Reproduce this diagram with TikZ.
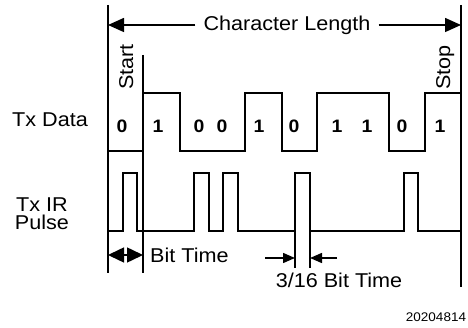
\documentclass[tikz,border=0pt]{standalone}
\usepackage{fontspec}
\setmainfont{Liberation Sans}[FakeStretch=1.08]
\usetikzlibrary{positioning,calc,arrows.meta}

\begin{document}
\begin{tikzpicture}
  [x=1pt,y=-1pt,
   signal/.style={
    line width=1.8pt,
    line join=miter
    },
   marker/.style={
    line width=1.8pt
    },
   sigtitle/.style={
    inner sep=0pt,
    align=center,
    font=\fontsize{20}{18}\selectfont
    },
   bitval/.style={
    inner sep=0pt,
    font=\fontsize{18}{18}\selectfont\bfseries
    },
   measure/.style={
    line width=1.5pt,
    -{Triangle[length=16pt,width=14pt]}
    },
   smallmeasure/.style={
    line width=1.5pt,
    -{Triangle[length=12pt,width=10pt]}
    }
  ]
  \useasboundingbox (0,0) rectangle (468,328);

  % limiti del carattere
  \coordinate (charl) at (108,5);
  \coordinate (charr) at (461,5);
  \coordinate (startl) at (143,55);
  \draw[marker] (charl) -- ++(0,268);
  \draw[marker] (startl) -- ++(0,218);
  \draw[marker] (charr) -- ++(0,282);

  \node[sigtitle, inner xsep=8pt] (lengthtitle) at (287,25) {Character Length};
  \draw[measure] (lengthtitle.west) -- (lengthtitle.west -| charl);
  \draw[measure] (lengthtitle.east) -- (lengthtitle.east -| charr);

  \node[sigtitle, rotate=90, anchor=base west] (starttitle) at (133,90) {Start};
  \node[sigtitle, rotate=90, anchor=base west] (stoptitle) at (450,90) {Stop};

  % segnale dati
  \node[sigtitle] (datatitle) at (50,120) {Tx Data};
  \draw[signal] (108,151) -| (143,93) -| (180,151) -| (245,93) -| (282,151)
    -| (317,93) -| (389,151) -| (425,93) -- (461,93);
  \foreach \x/\v [count=\i] in {122/0,158/1,199/0,222/0,259/1,294/0,337/1,367/1,402/0,440/1}
    \node[bitval] (bit\i) at (\x,126) {\v};

  % impulsi IR
  \node[sigtitle] (pulsetitle) at (42,214) {Tx IR\\Pulse};
  \draw[signal] (108,231) -| (123,173) -| (137,231) -| (194,173) -| (209,231)
    -| (223,173) -| (238,231) -| (295,173) -| (310,231) -| (404,173) -| (418,231)
    -- (461,231);
  \coordinate (pulsel) at (295,231);
  \coordinate (pulser) at (310,231);
  \draw[marker] (pulsel) -- ++(0,37);
  \draw[marker] (pulser) -- ++(0,37);

  % tempo di bit
  \coordinate (bitl) at (108,255);
  \coordinate (bitr) at (143,255);
  \draw[line width=1.5pt, {Triangle[length=16pt,width=15pt]}-{Triangle[length=16pt,width=15pt]}]
    (bitl) -- (bitr);
  \node[sigtitle, anchor=west, right=7pt of bitr] (bittitle) {Bit Time};

  \draw[smallmeasure] ($(pulsel |- 0,258) + (-30,0)$) -- (pulsel |- 0,258);
  \draw[smallmeasure] ($(pulser |- 0,258) + (27,0)$) -- (pulser |- 0,258);
  \node[sigtitle] (pulsewidthtitle) at (339,280) {3/16 Bit Time};

  \node[inner sep=0pt, font=\fontsize{12.5}{13}\selectfont] (fignum) at (436,317) {20204814};
\end{tikzpicture}
\end{document}
